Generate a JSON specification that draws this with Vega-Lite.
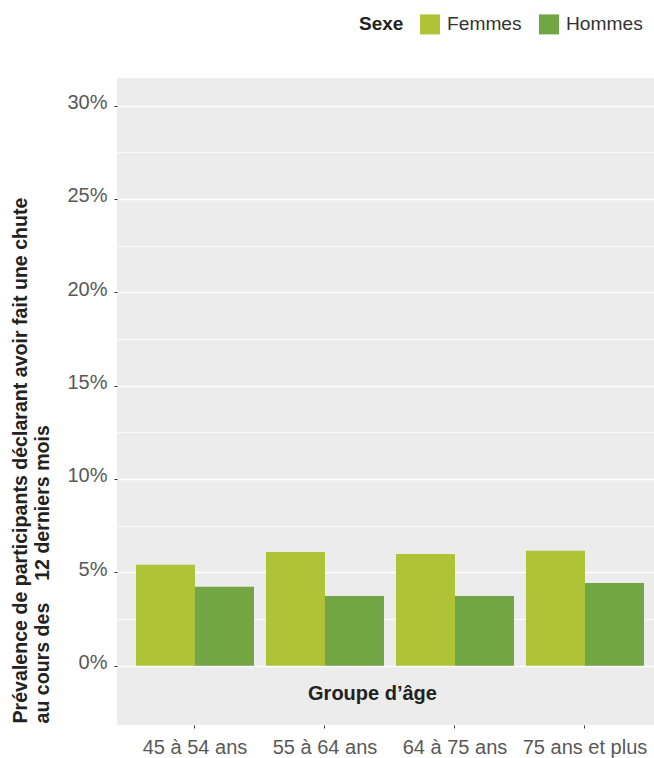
{
  "$schema": "https://vega.github.io/schema/vega-lite/v6.json",
  "width": 537,
  "height": 647,
  "autosize": {"type": "none"},
  "padding": {"left": 117, "top": 78, "right": 0, "bottom": 33},
  "background": "white",
  "config": {
    "view": {"fill": "#EBECEB", "stroke": null},
    "font": "Liberation Sans, Arial, sans-serif"
  },
  "data": {
    "values": [
      {"age": "45 à 54 ans", "sexe": "Femmes", "valeur": 0.0540},
      {"age": "45 à 54 ans", "sexe": "Hommes", "valeur": 0.0422},
      {"age": "55 à 64 ans", "sexe": "Femmes", "valeur": 0.0609},
      {"age": "55 à 64 ans", "sexe": "Hommes", "valeur": 0.0373},
      {"age": "64 à 75 ans", "sexe": "Femmes", "valeur": 0.0598},
      {"age": "64 à 75 ans", "sexe": "Hommes", "valeur": 0.0373},
      {"age": "75 ans et plus", "sexe": "Femmes", "valeur": 0.0615},
      {"age": "75 ans et plus", "sexe": "Hommes", "valeur": 0.0443}
    ]
  },
  "mark": {"type": "bar"},
  "encoding": {
    "x": {
      "field": "age",
      "type": "nominal",
      "sort": ["45 à 54 ans", "55 à 64 ans", "64 à 75 ans", "75 ans et plus"],
      "scale": {"paddingInner": 0.0923, "paddingOuter": 0.1115, "align": 0.655},
      "axis": {
        "title": "Groupe d’âge",
        "titleFontSize": 20,
        "titleFontWeight": "bold",
        "titleColor": "#222222",
        "titleX": 255,
        "titleY": -32,
        "titleBaseline": "middle",
        "titleAnchor": "middle",
        "labelAngle": 0,
        "labelFontSize": 20,
        "labelColor": "#595959",
        "labelPadding": 9,
        "tickSize": 3,
        "tickColor": "#333333",
        "domain": false,
        "grid": false
      }
    },
    "xOffset": {
      "field": "sexe",
      "type": "nominal",
      "sort": ["Femmes", "Hommes"],
      "scale": {"paddingInner": 0, "paddingOuter": 0}
    },
    "y": {
      "field": "valeur",
      "type": "quantitative",
      "scale": {"domain": [-0.0318, 0.3148], "nice": false, "zero": false},
      "axis": {
        "values": [0, 0.025, 0.05, 0.075, 0.1, 0.125, 0.15, 0.175, 0.2, 0.225, 0.25, 0.275, 0.3],
        "labelExpr": "round(datum.value*1000) % 50 === 0 ? format(datum.value, '.0%') : ''",
        "grid": true,
        "gridColor": "white",
        "gridWidth": {"condition": {"test": "round(datum.value*1000) % 50 === 0", "value": 1.3}, "value": 0.8},
        "tickOpacity": {"condition": {"test": "round(datum.value*1000) % 50 === 0", "value": 1}, "value": 0},
        "tickSize": 3,
        "tickColor": "#333333",
        "domain": false,
        "labelFontSize": 20,
        "labelColor": "#595959",
        "labelPadding": 7,
        "labelOffset": -3,
        "title": ["Prévalence de participants déclarant avoir fait une chute", "au cours des\u00a0\u00a0\u00a0 12 derniers mois"],
        "titleFontSize": 19.6,
        "titleFontWeight": "bold",
        "titleColor": "#222222",
        "titleAngle": 270,
        "titleAlign": "left",
        "titleBaseline": "top",
        "titleX": -106,
        "titleY": 645,
        "titleLineHeight": 22
      }
    },
    "color": {
      "field": "sexe",
      "type": "nominal",
      "sort": ["Femmes", "Hommes"],
      "scale": {"domain": ["Femmes", "Hommes"], "range": ["#AFC336", "#72A544"]},
      "legend": {
        "orient": "none",
        "legendX": 242,
        "legendY": -64,
        "direction": "horizontal",
        "title": "Sexe",
        "titleOrient": "left",
        "titleFontSize": 19,
        "titleFontWeight": "bold",
        "titleColor": "#222222",
        "titlePadding": 16,
        "labelFontSize": 19.2,
        "labelColor": "#333333",
        "labelOffset": 7,
        "columnPadding": 17,
        "symbolType": "square",
        "symbolSize": 400,
        "symbolStrokeWidth": 0,
        "symbolOpacity": 1
      }
    }
  }
}
